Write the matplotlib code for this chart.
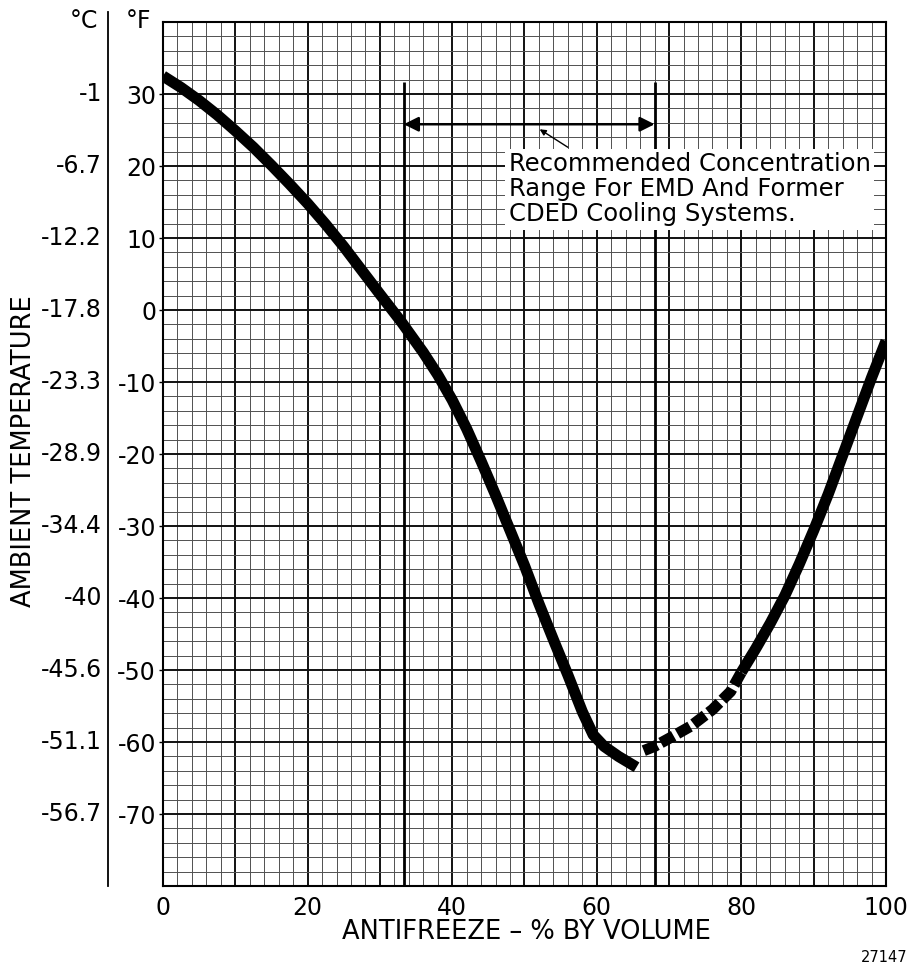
import numpy as np
import matplotlib
matplotlib.use("Agg")
import matplotlib.pyplot as plt
from matplotlib.lines import Line2D

plt.rcParams['font.family'] = ['DejaVu Sans']

# ---- data ----
# freezing point curve (antifreeze % by volume, ambient temperature in °F)
solid_left_x = [0, 2.5, 5, 7.5, 10, 12.5, 15, 17.5, 20, 22.5, 25, 27.5, 30, 33, 36, 38, 40, 42, 44, 46, 48, 50, 52, 54, 56, 58, 59.5, 61, 63, 65.5]
solid_left_y = [32.5, 30.9, 29.1, 27.1, 24.9, 22.6, 20.1, 17.5, 14.8, 11.9, 8.8, 5.5, 2.2, -1.7, -5.9, -9.0, -12.5, -16.5, -21.0, -25.7, -30.6, -35.5, -40.8, -45.8, -50.7, -55.8, -59.0, -60.6, -62.0, -63.5]
dashed_x = [66.5, 68, 70, 73, 76, 78.5, 80]
dashed_y = [-61.2, -60.6, -59.5, -57.8, -55.5, -53.0, -50.3]
solid_right_x = [80, 82, 84, 86, 88, 90, 92, 94, 96, 98, 100]
solid_right_y = [-50.3, -47.0, -43.5, -39.7, -35.3, -30.6, -25.6, -20.2, -14.8, -9.4, -4.3]

range_x = [33.3, 68.0]          # recommended concentration range (%)
range_top = 31.6                # °F, top of range lines
arrow_y = 25.8                  # °F, level of double arrow

f_ticks = [30, 20, 10, 0, -10, -20, -30, -40, -50, -60, -70]
c_labels = ['-1', '-6.7', '-12.2', '-17.8', '-23.3', '-28.9', '-34.4', '-40', '-45.6', '-51.1', '-56.7']
x_ticks = [0, 10, 20, 30, 40, 50, 60, 70, 80, 90, 100]
x_ticklabels = ['0', '', '20', '', '40', '', '60', '', '80', '', '100']

note = "Recommended Concentration\nRange For EMD And Former\nCDED Cooling Systems."

# ---- figure ----
W, H = 912, 965
fig = plt.figure(figsize=(W / 100, H / 100), dpi=100)

def fx(px):
    return px / W

def fy(py):
    return 1 - py / H

ax = fig.add_axes([fx(163), fy(886), (886 - 163) / W, (886 - 22) / H])
ax.set_xlim(0, 100)
ax.set_ylim(-80, 40)

# graph-paper grid
for v in np.arange(2, 100, 2):
    major = (v % 10 == 0)
    ax.axvline(v, color='#111111' if major else '#505050', lw=1.4 if major else 0.7, zorder=1)
for v in np.arange(-78, 40, 2):
    major = (v % 10 == 0)
    ax.axhline(v, color='#111111' if major else '#505050', lw=1.4 if major else 0.7, zorder=1)
for s in ax.spines.values():
    s.set_linewidth(1.5)
    s.set_color('black')

ax.set_xticks(x_ticks)
ax.set_xticklabels(x_ticklabels, fontsize=17)
ax.tick_params(axis='x', length=0, pad=7)
ax.set_yticks(f_ticks)
ax.set_yticklabels([str(v) for v in f_ticks], fontsize=17)
ax.tick_params(axis='y', length=3, width=1, pad=2)

# range lines
for xv in range_x:
    ax.plot([xv, xv], [range_top, -80], color='black', lw=2.0, zorder=3, solid_capstyle='butt')

# curve
ax.plot(solid_left_x, solid_left_y, color='black', lw=8, zorder=4,
        solid_capstyle='butt', solid_joinstyle='round')
ax.plot(dashed_x, dashed_y, color='black', lw=8, zorder=4,
        linestyle=(0, (1.3, 0.4)), dash_capstyle='butt')
ax.plot(solid_right_x, solid_right_y, color='black', lw=8, zorder=4,
        solid_capstyle='butt', solid_joinstyle='round')

# double arrow
ax.annotate('', xy=(range_x[0], arrow_y), xytext=(range_x[1], arrow_y),
            arrowprops=dict(arrowstyle='<|-|>', color='black', lw=1.8,
                            mutation_scale=22, shrinkA=0, shrinkB=0),
            zorder=5)

# note with white box
ax.text(47.8, 21.9, note, fontsize=17.5, ha='left', va='top', linespacing=1.05,
        zorder=6, bbox=dict(boxstyle='square,pad=0.15', facecolor='white', edgecolor='none'))

# small pointer arrow
ax.annotate('', xy=(52.1, 25.1), xytext=(56.0, 22.6),
            arrowprops=dict(arrowstyle='-|>', color='black', lw=1.0,
                            mutation_scale=9, shrinkA=0, shrinkB=0),
            zorder=7)

# Celsius labels
ytr = ax.get_yaxis_transform()
for fv, cl in zip(f_ticks, c_labels):
    ax.text(-(163 - 102) / (886 - 163), fv, cl, transform=ytr, fontsize=17,
            ha='right', va='center', clip_on=False)

# separator line between °C and °F columns
fig.add_artist(Line2D([fx(108), fx(108)], [fy(12), fy(886)], color='black', lw=1.3))

fig.text(fx(98), fy(21), '°C', fontsize=17, ha='right', va='center')
fig.text(fx(126), fy(21), '°F', fontsize=17, ha='left', va='center')

fig.text(fx(24), fy(451), 'AMBIENT TEMPERATURE', fontsize=18.5, rotation=90,
         ha='center', va='center')
fig.text(fx(526), fy(932), 'ANTIFREEZE – % BY VOLUME', fontsize=18.5,
         ha='center', va='center')
fig.text(fx(908), fy(957), '27147', fontsize=10.5, ha='right', va='center')

fig.savefig('out.png', dpi=100)
